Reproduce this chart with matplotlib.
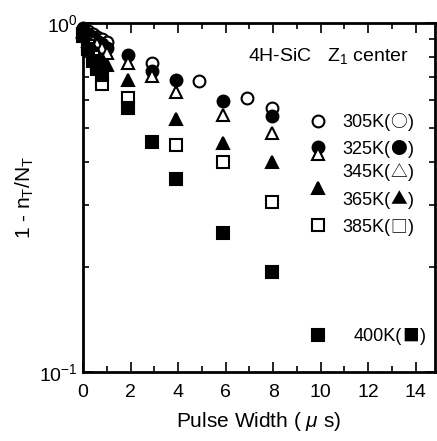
import matplotlib
matplotlib.use("Agg")
import matplotlib.pyplot as plt
from matplotlib.ticker import FixedLocator, NullFormatter, MultipleLocator

plt.rcParams['font.family'] = ['Liberation Sans', 'DejaVu Sans']
plt.rcParams['mathtext.fontset'] = 'custom'
plt.rcParams['mathtext.rm'] = 'Liberation Sans'
plt.rcParams['mathtext.it'] = 'Liberation Sans:italic'

# data (pulse width in microseconds, 1 - nT/NT)
x_305 = [0, 0.2, 0.4, 0.6, 0.8, 1.0, 2.9, 4.9, 6.9, 7.95]
y_305 = [0.97, 0.95, 0.93, 0.91, 0.90, 0.88, 0.77, 0.68, 0.61, 0.57]
x_325 = [0, 0.2, 0.4, 0.6, 0.8, 1.0, 1.9, 2.9, 3.9, 5.9, 7.95]
y_325 = [0.96, 0.93, 0.91, 0.89, 0.87, 0.85, 0.81, 0.73, 0.687, 0.598, 0.54]
x_345 = [0, 0.2, 0.4, 0.6, 0.8, 1.0, 1.9, 2.9, 3.9, 5.9, 7.95]
y_345 = [0.95, 0.92, 0.89, 0.87, 0.85, 0.82, 0.77, 0.705, 0.634, 0.545, 0.484]
x_365 = [0, 0.2, 0.4, 0.6, 0.8, 1.0, 1.9, 3.9, 5.9, 7.95]
y_365 = [0.94, 0.89, 0.85, 0.82, 0.79, 0.76, 0.687, 0.53, 0.453, 0.40]
x_385 = [0, 0.2, 0.4, 0.6, 0.8, 1.9, 3.9, 5.9, 7.95]
y_385 = [0.93, 0.86, 0.80, 0.75, 0.67, 0.61, 0.447, 0.40, 0.307]
x_400 = [0, 0.2, 0.4, 0.6, 0.8, 1.9, 2.9, 3.9, 5.9, 7.95]
y_400 = [0.92, 0.84, 0.78, 0.74, 0.71, 0.57, 0.456, 0.357, 0.25, 0.194]

label_temps = ['305K', '325K', '345K', '365K', '385K', '400K']
label_syms = ['○', '●', '△', '▲', '□', '■']
legend_y = [0.524, 0.44, 0.42, 0.336, 0.263, 0.128]
label_y = [0.524, 0.44, 0.378, 0.315, 0.263, 0.128]

fig = plt.figure(figsize=(4.37, 4.41), dpi=100)
ax = fig.add_axes([0.19, 0.1565, 0.805, 0.7915])

series = [
    (x_305, y_305, 'o', 'white'),
    (x_325, y_325, 'o', 'black'),
    (x_345, y_345, '^', 'white'),
    (x_365, y_365, '^', 'black'),
    (x_385, y_385, 's', 'white'),
    (x_400, y_400, 's', 'black'),
]
ms = {'o': 8.5, '^': 8.5, 's': 8}
for xs, ys, m, fc in series:
    ax.plot(xs, ys, linestyle='none', marker=m, ms=ms[m], mfc=fc, mec='black',
            mew=1.5, clip_on=False, zorder=3)

# legend-like annotations
leg_x = 9.9
for (xs, ys, m, fc), ly, temp, sym, ty in zip(series, legend_y, label_temps, label_syms, label_y):
    ax.plot([leg_x], [ly], linestyle='none', marker=m, ms=ms[m], mfc=fc, mec='black', mew=1.5)
    tx = 10.9 if temp != '400K' else 11.4
    t1 = ax.annotate(temp + '(', xy=(tx, ty), xytext=(0, -4.7), textcoords='offset points',
                     fontsize=13, va='baseline', ha='left')
    ax.annotate(sym, xy=(1, 0), xycoords=t1, fontsize=12, va='bottom', ha='left',
                family=['Noto Sans CJK JP'], xytext=(0, 0.2), textcoords='offset points')
    ax.annotate(')', xy=(1, 0), xycoords=t1, fontsize=13, va='bottom', ha='left',
                xytext=(12.5, 0), textcoords='offset points')

ax.text(0.47, 0.905, r'4H-SiC   Z$_1$ center', transform=ax.transAxes,
        fontsize=14, ha='left', va='center')

ax.set_yscale('log')
ax.set_ylim(0.1, 1.0)
ax.set_xlim(0, 14.8)
ax.xaxis.set_major_locator(MultipleLocator(2))
ax.xaxis.set_minor_locator(MultipleLocator(1))
ax.yaxis.set_major_locator(FixedLocator([0.1, 1.0]))
ax.yaxis.set_minor_locator(FixedLocator([0.2, 0.3, 0.4, 0.5, 0.6, 0.7, 0.8, 0.9]))
ax.yaxis.set_minor_formatter(NullFormatter())
ax.set_yticklabels([r'$10^{-1}$', r'$10^{0}$'])

ax.tick_params(which='both', direction='in', top=True, right=True, width=1.2,
               labelsize=14)
ax.tick_params(axis='x', which='major', pad=9)
ax.tick_params(axis='y', which='major', pad=4)
ax.tick_params(which='major', length=7)
ax.tick_params(which='minor', length=4)
for s in ax.spines.values():
    s.set_linewidth(2)

ax.set_xlabel(r'Pulse Width ( $\mu$ s)', fontsize=15, labelpad=6)
ax.set_ylabel(r'1 - n$_{\rm T}$/N$_{\rm T}$', fontsize=15, labelpad=2)

fig.savefig('out.png', dpi=100)
